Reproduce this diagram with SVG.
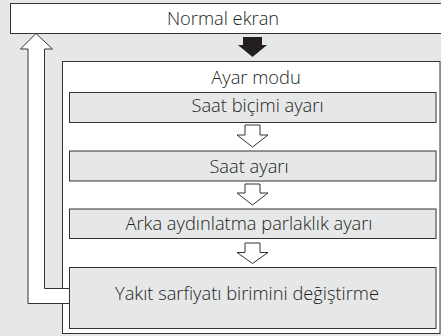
<svg xmlns="http://www.w3.org/2000/svg" width="441" height="336" viewBox="0 0 441 336">
<style>
.bg{fill:#e6e7e8}
.wbox{fill:#ffffff;stroke:#333333;stroke-width:1}
.gbox{fill:#e6e7e8;stroke:#333333;stroke-width:1}
.harrow{fill:#ffffff;stroke:#333333;stroke-width:1;stroke-linejoin:miter}
.barrow{fill:#231f20;stroke:none}
text{font-family:"Open Sans","Noto Sans","DejaVu Sans",sans-serif;font-weight:300;font-size:18.3px;fill:#231f20;text-anchor:middle}
</style>
<rect class="bg" x="0" y="0" width="441" height="336"/>
<g id="normal-ekran">
<rect class="wbox" x="10.5" y="3.5" width="440" height="30"/>
<text x="223" y="24.5">Normal ekran</text>
</g>
<g id="ayar-modu">
<rect class="wbox" x="62.5" y="61.5" width="377.5" height="272"/>
<text x="256" y="83.5">Ayar modu</text>
</g>
<g id="saat-bicimi">
<rect class="gbox" x="69.5" y="92.5" width="366.5" height="30"/>
<text x="257.5" y="112">Saat biçimi ayarı</text>
</g>
<g id="saat-ayari">
<rect class="gbox" x="69.5" y="151" width="366.5" height="30"/>
<text x="249" y="173">Saat ayarı</text>
</g>
<g id="arka-aydinlatma">
<rect class="gbox" x="69.5" y="209" width="366.5" height="29.5"/>
<text x="249" y="229.5">Arka aydınlatma parlaklık ayarı</text>
</g>
<g id="yakit">
<rect class="gbox" x="69.5" y="267.5" width="366.5" height="61"/>
<text x="247" y="300">Yakıt sarfiyatı birimini değiştirme</text>
</g>
<g id="connectors">
<path class="barrow" d="M243,37 H262 V45 H267 L252.5,57 L238,45 H243 Z"/>
<path class="harrow" d="M245,125 H260 V135 H268 L252.5,147 L237,135 H245 Z"/>
<path class="harrow" d="M245,184 H260 V193 H268 L252.5,205 L237,193 H245 Z"/>
<path class="harrow" d="M245,243 H260 V252.5 H268 L252.5,263.5 L237,252.5 H245 Z"/>
<path class="harrow" d="M69.5,288.5 H44.5 V49 H52.5 L36,33.5 L20.5,49 H28 V303.5 H69.5 Z"/>
</g>
</svg>
